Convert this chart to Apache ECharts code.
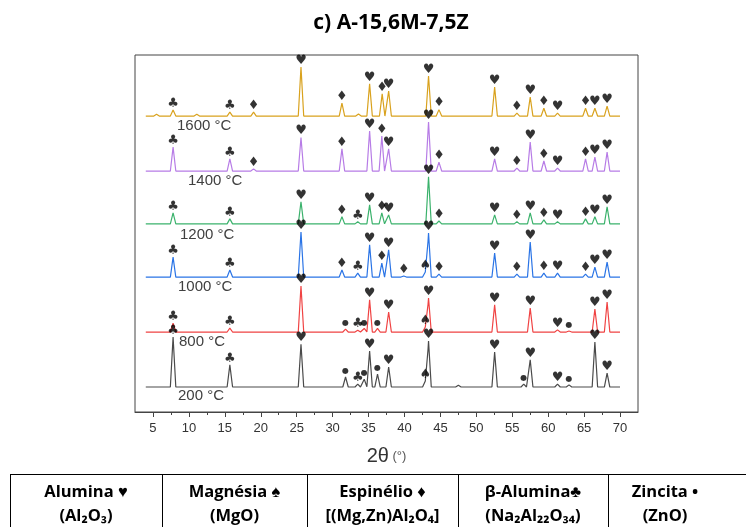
<!DOCTYPE html>
<html>
<head>
<meta charset="utf-8">
<script src="https://cdn.jsdelivr.net/npm/echarts@6/dist/echarts.min.js"></script>
<style>html,body{margin:0;padding:0;background:#fff;}#c{width:746px;height:527px;}</style>
</head>
<body>
<div id="c"></div>
<script>
// ---- data (2θ in degrees, intensity in arbitrary units) ----
const temps = ['200 °C', '800 °C', '1000 °C', '1200 °C', '1400 °C', '1600 °C'];
const colors = ['#4a4a4a', '#f04343', '#2a74e6', '#3bb26c', '#b77ce6', '#d9a21e'];
const offsets = [7.0, 22.4, 37.8, 52.7, 67.5, 82.9];
const xRange = [4.0, 70.0];
const xTicks = [5, 10, 15, 20, 25, 30, 35, 40, 45, 50, 55, 60, 65, 70];
const xMinorTicks = [7.5, 12.5, 17.5, 22.5, 27.5, 32.5, 37.5, 42.5, 47.5, 52.5, 57.5, 62.5, 67.5];

const peaks200 = [[7.8,14.0],[15.7,6.2],[25.6,12.0],[31.8,2.8],[33.5,0.8],[34.4,2.2],[35.15,10.1],[36.25,3.6],[37.8,5.6],[42.9,1.7],[43.35,12.9],[47.5,0.5],[52.55,9.8],[56.6,0.8],[57.5,7.6],[61.3,0.8],[62.9,0.6],[66.5,12.6],[68.2,3.9]];
const peaks800 = [[7.8,2.5],[15.7,1.1],[25.6,12.9],[31.8,0.8],[33.5,0.5],[34.4,1.0],[35.15,9.0],[36.25,1.0],[37.8,5.6],[42.9,1.4],[43.35,9.5],[52.55,7.6],[57.5,6.7],[61.3,0.6],[62.9,0.3],[66.5,6.4],[68.2,8.4]];
const peaks1000 = [[7.8,5.6],[15.7,2.0],[25.6,12.6],[31.3,2.0],[33.5,1.1],[35.15,9.0],[36.85,3.9],[37.8,7.6],[39.9,0.3],[42.9,1.4],[43.35,12.3],[44.8,0.8],[52.55,6.7],[55.65,0.8],[57.5,9.8],[59.4,1.1],[61.3,1.1],[65.2,0.8],[66.5,2.8],[68.2,4.2]];
const peaks1200 = [[7.8,3.1],[15.7,1.4],[25.6,6.2],[31.3,2.0],[33.5,0.6],[35.15,5.3],[36.85,3.1],[37.8,2.5],[43.35,13.2],[44.8,0.8],[52.55,2.5],[55.65,0.6],[57.5,3.1],[59.4,1.1],[61.3,0.6],[65.2,1.4],[66.5,2.0],[68.2,4.8]];
const peaks1400 = [[7.8,6.7],[15.7,3.4],[19.0,0.6],[25.6,9.4],[31.3,6.2],[35.15,11.2],[36.85,9.8],[37.8,6.2],[43.35,13.7],[44.8,2.5],[52.55,3.4],[55.65,0.8],[57.5,8.1],[59.4,2.8],[61.3,0.8],[65.2,3.4],[66.5,3.9],[68.2,5.3]];
const peaks1600 = [[5.5,0.5],[7.8,1.7],[11.1,0.5],[15.7,1.1],[19.0,1.1],[25.6,13.7],[31.3,3.6],[33.6,0.6],[35.15,9.0],[36.9,6.2],[37.8,7.0],[43.35,11.2],[44.8,1.8],[52.55,8.1],[55.65,0.8],[57.5,5.3],[59.4,2.2],[61.3,0.8],[65.2,2.2],[66.5,2.2],[68.2,2.8]];

// phase markers: [symbol, 2θ]
const marks200 = [['♣',7.8],['♣',15.7],['♥',25.6],['●',31.8],['♣',33.5],['●',34.4],['♥',35.15],['●',36.25],['♥',37.8],['♠',42.9],['♥',43.35],['♥',52.55],['●',56.6],['♥',57.5],['♥',61.3],['●',62.9],['♥',66.5],['♥',68.2]];
const marks800 = [['♣',7.8],['♣',15.7],['♥',25.6],['●',31.8],['♣',33.5],['●',34.4],['♥',35.15],['●',36.25],['♥',37.8],['♠',42.9],['♥',43.35],['♥',52.55],['♥',57.5],['♥',61.3],['●',62.9],['♥',66.5],['♥',68.2]];
const marks1000 = [['♣',7.8],['♣',15.7],['♥',25.6],['♦',31.3],['♣',33.5],['♥',35.15],['♦',36.85],['♥',37.8],['♦',39.9],['♠',42.9],['♥',43.35],['♦',44.8],['♥',52.55],['♦',55.65],['♥',57.5],['♦',59.4],['♥',61.3],['♦',65.2],['♥',66.5],['♥',68.2]];
const marks1200 = [['♣',7.8],['♣',15.7],['♥',25.6],['♦',31.3],['♣',33.5],['♥',35.15],['♦',36.85],['♥',37.8],['♥',43.35],['♦',44.8],['♥',52.55],['♦',55.65],['♥',57.5],['♦',59.4],['♥',61.3],['♦',65.2],['♥',66.5],['♥',68.2]];
const marks1400 = [['♣',7.8],['♣',15.7],['♦',19.0],['♥',25.6],['♦',31.3],['♥',35.15],['♦',36.85],['♥',37.8],['♥',43.35],['♦',44.8],['♥',52.55],['♦',55.65],['♥',57.5],['♦',59.4],['♥',61.3],['♦',65.2],['♥',66.5],['♥',68.2]];
const marks1600 = [['♣',7.8],['♣',15.7],['♦',19.0],['♥',25.6],['♦',31.3],['♥',35.15],['♦',36.9],['♥',37.8],['♥',43.35],['♦',44.8],['♥',52.55],['♦',55.65],['♥',57.5],['♦',59.4],['♥',61.3],['♦',65.2],['♥',66.5],['♥',68.2]];

const tableHead = ['Alumina ♥', 'Magnésia ♠', 'Espinélio ♦', 'β-Alumina♣', 'Zincita •'];
const tableFormula = ['(Al₂O₃)', '(MgO)', '[(Mg,Zn)Al₂O₄]', '(Na₂Al₂₂O₃₄)', '(ZnO)'];

// ---- build ----
const allPeaks = [peaks200, peaks800, peaks1000, peaks1200, peaks1400, peaks1600];
const allMarks = [marks200, marks800, marks1000, marks1200, marks1400, marks1600];
const HW = 0.38; // peak half width (deg)

function profile(peaks, base) {
  const xs = new Set([xRange[0], xRange[1]]);
  peaks.forEach(([p]) => { xs.add(+(p - HW).toFixed(3)); xs.add(p); xs.add(+(p + HW).toFixed(3)); });
  const arr = Array.from(xs).sort((a, b) => a - b);
  const f = x => base + peaks.reduce((s, [p, h]) => s + Math.max(0, h * (1 - Math.abs(x - p) / HW)), 0);
  return { data: arr.map(x => [x, f(x)]), f };
}

const series = [];
allPeaks.forEach((pk, i) => {
  const pr = profile(pk, offsets[i]);
  series.push({
    type: 'line', data: pr.data, showSymbol: false, symbol: 'none',
    lineStyle: { color: colors[i], width: 1.2 }, silent: true, z: 2
  });
  series.push({
    type: 'scatter', symbolSize: 0, silent: true, z: 5,
    data: allMarks[i].map(([s, p]) => ({
      value: [p, pr.f(p)],
      label: {
        show: true, position: 'top', distance: s === '●' ? 2 : 0,
        formatter: s, color: '#000',
        fontFamily: 'DejaVu Sans',
        fontSize: s === '●' ? 8 : 13
      }
    }))
  });
});

const chart = echarts.init(document.getElementById('c'), null, { renderer: 'canvas' });
const gLeft = 135, gRight = 108, gTop = 55, gBottom = 115;

const tempLabelPos = [[178, 397], [179, 343], [178, 288], [180, 236], [188, 182], [177, 127]];
const graphics = temps.map((t, i) => ({
  type: 'text', left: tempLabelPos[i][0], top: tempLabelPos[i][1] - 9,
  style: { text: t, fill: '#404040', font: '15px "Liberation Sans", Arial, sans-serif' }
}));

// table
const colX = [10, 162, 307, 458, 608, 760];
const tFont = 'bold 16.5px "Open Sans", Lato, sans-serif';
graphics.push({ type: 'line', shape: { x1: 10, y1: 474.5, x2: 746, y2: 474.5 }, style: { stroke: '#000', lineWidth: 1 } });
for (let i = 0; i < 5; i++) {
  graphics.push({ type: 'line', shape: { x1: colX[i] + 0.5, y1: 474, x2: colX[i] + 0.5, y2: 527 }, style: { stroke: '#000', lineWidth: 1 } });
  const cx = i < 4 ? (colX[i] + colX[i + 1]) / 2 : 665;
  graphics.push({ type: 'text', x: cx, y: 492, style: { text: tableHead[i], fill: '#000', font: tFont, align: 'center', verticalAlign: 'middle' } });
  graphics.push({ type: 'text', x: cx, y: 516, style: { text: tableFormula[i], fill: '#000', font: tFont, align: 'center', verticalAlign: 'middle' } });
}

chart.setOption({
  animation: false,
  backgroundColor: '#fff',
  title: {
    text: 'c) A-15,6M-7,5Z', left: 386, top: 8, textAlign: 'center',
    textStyle: { fontFamily: '"Open Sans", Lato, sans-serif', fontWeight: 'bold', fontSize: 21, color: '#000' }
  },
  grid: { left: gLeft, right: gRight, top: gTop, bottom: gBottom, show: true, borderColor: '#444', borderWidth: 1, backgroundColor: 'transparent' },
  xAxis: [{
    type: 'value', min: 2.5, max: 72.5, position: 'bottom',
    axisLine: { show: true, onZero: false, lineStyle: { color: '#444', width: 1 } },
    axisTick: { show: true, length: 5, customValues: xTicks, lineStyle: { color: '#444' } },
    axisLabel: { customValues: xTicks, margin: 10, color: '#333', fontSize: 13, fontFamily: '"Liberation Sans", Arial, sans-serif' },
    splitLine: { show: false },
    name: '{a|2θ}{b| (°)}', nameLocation: 'middle', nameGap: 34,
    nameTextStyle: { rich: { a: { fontSize: 20, color: '#333', fontFamily: '"Liberation Sans", Arial' }, b: { fontSize: 13, color: '#555', fontFamily: '"Liberation Sans", Arial' } } }
  }, {
    type: 'value', min: 2.5, max: 72.5, position: 'bottom', gridIndex: 0,
    axisLine: { show: false, onZero: false },
    axisTick: { show: true, length: 3, customValues: xMinorTicks, lineStyle: { color: '#444' } },
    axisLabel: { show: false }, splitLine: { show: false }
  }],
  yAxis: { type: 'value', min: 0, max: 100, show: false },
  series: series,
  graphic: graphics
});
</script>
</body>
</html>
